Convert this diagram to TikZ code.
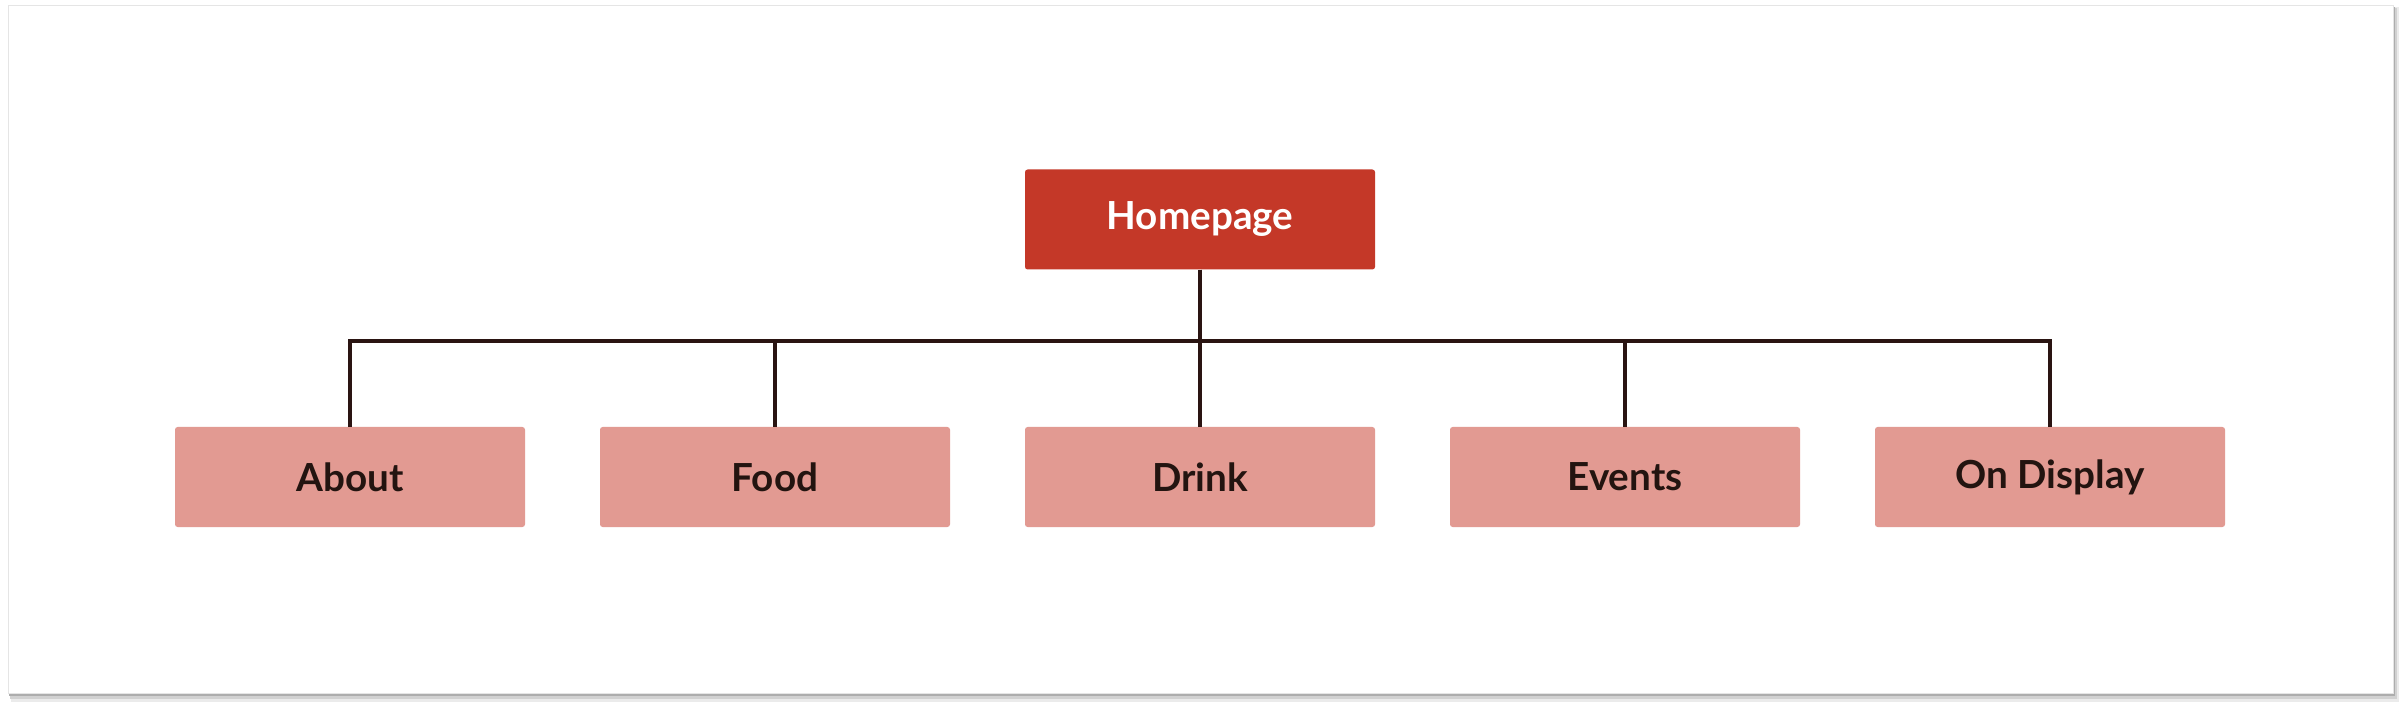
\documentclass[tikz,border=0pt]{standalone}
\usepackage{fontspec}
\setmainfont{Lato}
\usepackage{tikz}

\definecolor{tijolo}{HTML}{C43828}
\definecolor{salmao}{HTML}{E29A92}
\definecolor{marrom}{HTML}{2A1412}
\definecolor{texto}{HTML}{231410}

\begin{document}
\begin{tikzpicture}[grow=down]
\tikzstyle{level 1}=[sibling distance=8.5cm, level distance=5.15cm]
\tikzstyle{caixa}=[rectangle, rounded corners=1.5pt, minimum width=7cm, minimum height=2cm, inner sep=0pt, font=\fontsize{22}{26}\selectfont\bfseries]
\tikzstyle{raiz}=[caixa, fill=tijolo, text=white]
\tikzstyle{pagina}=[caixa, fill=salmao, text=texto]
\tikzstyle{edge from parent}=[draw=marrom, line width=2.2pt]
\useasboundingbox (0,0) rectangle (48,14.08);
% cartao com sombra
\fill[black!8] (0.22,0.04) rectangle (47.98,13.94);
\fill[black!18] (0.2,0.1) rectangle (47.93,13.92);
\fill[black!32] (0.18,0.16) rectangle (47.89,13.94);
\draw[fill=white, draw=black!10, line width=0.4pt] (0.16,0.22) rectangle (47.86,13.98);
 \node[raiz] (home) at (24,9.69) {Homepage}
  [edge from parent path={(\tikzparentnode.south) -- ++(0,-1.43) -| (\tikzchildnode.north)}]
  child{
      node[pagina] (about) {About}
  }
  child{
      node[pagina] (food) {Food}
  }
  child{
      node[pagina] (drink) {Drink}
  }
  child{
      node[pagina] (events) {Events}
  }
  child{
      node[pagina] (display) {On Display}
  };
\end{tikzpicture}
\end{document}
